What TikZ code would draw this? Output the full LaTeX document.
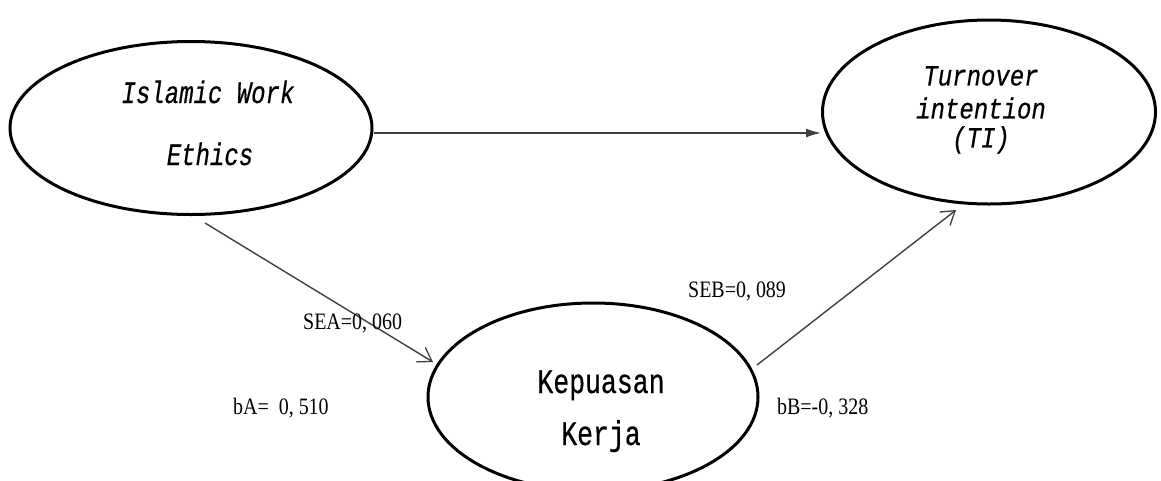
\documentclass[tikz,border=0pt]{standalone}
\usepackage{fontspec}
\setmainfont{Liberation Serif}
\newfontfamily\monofont[FakeBold=0.6]{Liberation Mono}
\usetikzlibrary{shapes.geometric,arrows.meta}
\newcommand{\tallline}[1]{\scalebox{1}[1.3]{#1}}
\newcommand{\midline}[1]{\scalebox{1}[1.22]{#1}}
\newcommand{\tallcoef}[1]{\scalebox{0.95}[1.12]{#1}}
\begin{document}
\begin{tikzpicture}[x=1pt,y=-1pt,
  oval/.style={ellipse,draw=black,line width=3pt,inner sep=0pt,fill=white},
  vartext/.style={font=\monofont\fontsize{24}{30}\selectfont\itshape,anchor=base,inner sep=0pt},
  kvtext/.style={font=\monofont\fontsize{26.5}{30}\selectfont,anchor=base,inner sep=0pt},
  coef/.style={font=\fontsize{21}{24}\selectfont,anchor=base west,inner sep=0pt},
  link/.style={draw=black!75,line width=1.4pt},
  openhead/.style={-{Straight Barb[length=13pt,width=17pt,line width=1.3pt]}},
  fillhead/.style={-{Latex[length=15pt,width=9pt]}}
]
\useasboundingbox (0,0) rectangle (1161,480);
% ovals
\node[oval,minimum width=362pt,minimum height=173pt] (IWE) at (191,128) {};
\node[oval,minimum width=333pt,minimum height=184pt] (TI) at (989,112) {};
\node[oval,minimum width=330pt,minimum height=188pt] (KK) at (593,397) {};
% oval texts
\node[vartext] (iwe1) at (208,103) {\tallline{Islamic Work}};
\node[vartext] (iwe2) at (210,165) {\tallline{Ethics}};
\node[vartext,align=center,anchor=north] (ti1) at (981,66)
  {\midline{Turnover}\\[3pt]\midline{intention}\\[-1pt]\midline{(TI)}};
\node[kvtext] (kk1) at (601,393) {\tallline{Kepuasan}};
\node[kvtext] (kk2) at (601,445) {\tallline{Kerja}};
% connector ends
\coordinate (a1) at (205,223);
\coordinate (a2) at (433,362);
\coordinate (b1) at (757,365);
\coordinate (b2) at (956,210);
% connectors
\draw[link,fillhead] (IWE.east |- 0,133) -- (TI.west |- 0,133);
\draw[link,openhead] (a1) -- (a2);
\draw[link,openhead] (b1) -- (b2);
% coefficient labels
\node[coef] (sea) at (303,329) {\tallcoef{SEA=0, 060}};
\node[coef] (ba) at (233,414) {\tallcoef{bA= \ 0, 510}};
\node[coef] (seb) at (688,297) {\tallcoef{SEB=0, 089}};
\node[coef] (bb) at (777,414) {\tallcoef{bB=-0, 328}};
\end{tikzpicture}
\end{document}
